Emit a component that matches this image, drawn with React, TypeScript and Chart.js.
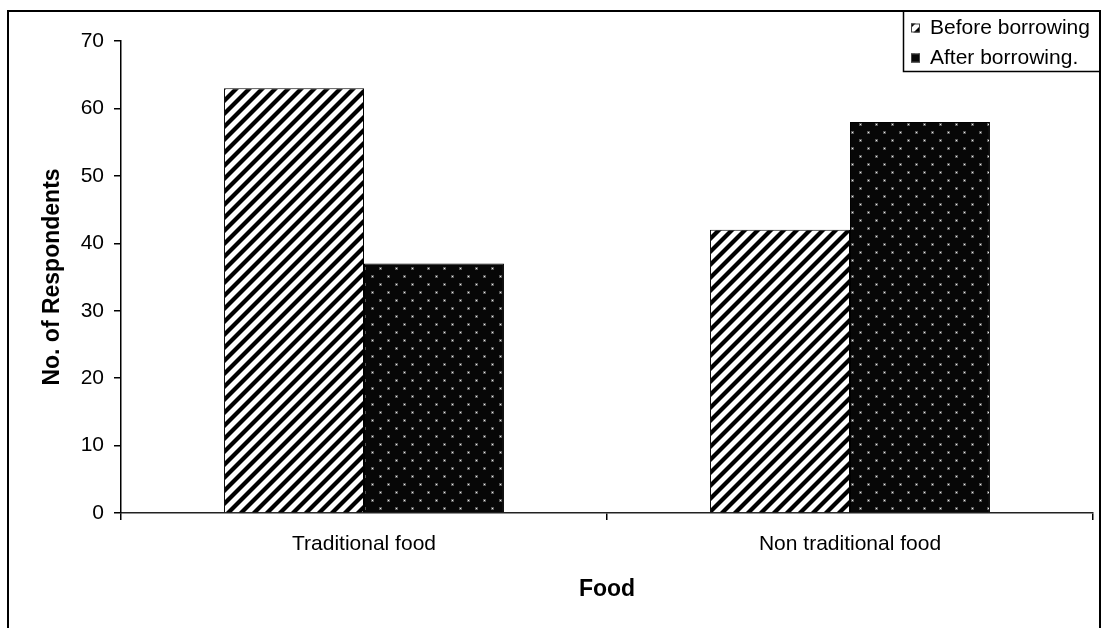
import { useEffect, useRef } from "react";
import { Chart, registerables } from "chart.js";

Chart.register(...registerables);

// ---- data ----
const categories = ["Traditional food", "Non traditional food"];
const seriesNames = ["Before borrowing", "After borrowing."];
const beforeValues = [63, 42];
const afterValues = [37, 58];
const yTickValues = [0, 10, 20, 30, 40, 50, 60, 70];
const yAxisTitle = "No. of Respondents";
const xAxisTitle = "Food";

const FONT_FAMILY = "'Liberation Sans', Arial, Helvetica, sans-serif";

// Diagonal "/" hatch on white
function makeStripePattern(ctx: CanvasRenderingContext2D): CanvasPattern | string {
  const size = 13;
  const c = document.createElement("canvas");
  c.width = size;
  c.height = size;
  const g = c.getContext("2d");
  if (!g) return "#888";
  g.fillStyle = "#ffffff";
  g.fillRect(0, 0, size, size);
  g.strokeStyle = "#000000";
  g.lineWidth = 4.2;
  g.lineCap = "square";
  for (const o of [-size, 0, size]) {
    g.beginPath();
    g.moveTo(o - 1, size + 1);
    g.lineTo(o + size + 1, -1);
    g.stroke();
  }
  return ctx.createPattern(c, "repeat") || "#888";
}

// Black fill with a staggered lattice of small light dots
function makeDotPattern(ctx: CanvasRenderingContext2D): CanvasPattern | string {
  const size = 16;
  const c = document.createElement("canvas");
  c.width = size;
  c.height = size;
  const g = c.getContext("2d");
  if (!g) return "#000";
  g.fillStyle = "#070707";
  g.fillRect(0, 0, size, size);
  const dot = (x: number, y: number) => {
    g.fillStyle = "rgba(140,140,140,0.6)";
    g.fillRect(x - 1, y - 1, 3, 3);
    g.fillStyle = "#f0f0f0";
    g.fillRect(x, y, 1, 1);
  };
  dot(4, 4);
  dot(12, 12);
  return ctx.createPattern(c, "repeat") || "#000";
}

// Outer frame and the boxed legend in the top-right corner
const framePlugin = {
  id: "frameAndLegend",
  afterDraw(chart: Chart) {
    const ctx = chart.ctx;
    ctx.save();
    ctx.strokeStyle = "#000";
    ctx.lineWidth = 2;
    ctx.strokeRect(8, 11, 1092, 700);

    ctx.lineWidth = 1.5;
    ctx.beginPath();
    ctx.moveTo(903.5, 11);
    ctx.lineTo(903.5, 71.5);
    ctx.lineTo(1100, 71.5);
    ctx.stroke();

    chart.data.datasets.forEach((ds: any, i: number) => {
      const cy = 28 + i * 30;
      ctx.fillStyle = ds.backgroundColor;
      ctx.fillRect(911, cy - 4.5, 9, 9);
      ctx.strokeStyle = "#444";
      ctx.lineWidth = 1;
      ctx.strokeRect(911.5, cy - 4, 8, 8);
      ctx.fillStyle = "#000";
      ctx.font = `21px ${FONT_FAMILY}`;
      ctx.textAlign = "left";
      ctx.textBaseline = "middle";
      ctx.fillText(String(ds.label), 930, cy);
    });
    ctx.restore();
  },
};

export default function App() {
  const canvasRef = useRef<HTMLCanvasElement | null>(null);

  useEffect(() => {
    const canvas = canvasRef.current;
    if (!canvas) return;
    const ctx = canvas.getContext("2d");
    if (!ctx) return;

    const stripes = makeStripePattern(ctx);
    const dots = makeDotPattern(ctx);

    const chart = new Chart(ctx, {
      type: "bar",
      data: {
        labels: categories,
        datasets: [
          {
            label: seriesNames[0],
            data: beforeValues,
            backgroundColor: stripes as any,
            borderColor: "#000",
            borderWidth: 1,
          },
          {
            label: seriesNames[1],
            data: afterValues,
            backgroundColor: dots as any,
            borderColor: "#000",
            borderWidth: 1,
          },
        ],
      },
      options: {
        animation: false,
        responsive: false,
        devicePixelRatio: 1,
        layout: { padding: { left: 0, top: 41, right: 9, bottom: 0 } },
        datasets: { bar: { categoryPercentage: 0.576, barPercentage: 1 } },
        plugins: {
          legend: { display: false },
          tooltip: { enabled: false },
        },
        scales: {
          x: {
            type: "category",
            offset: true,
            border: { display: true, color: "#222", width: 1.5 },
            grid: {
              display: true,
              offset: true,
              drawOnChartArea: false,
              drawTicks: true,
              tickLength: 7,
              color: "#000",
              lineWidth: 1.5,
            },
            ticks: {
              color: "#000",
              padding: 12,
              font: { family: FONT_FAMILY, size: 21 },
              maxRotation: 0,
            },
            title: {
              display: true,
              text: xAxisTitle,
              color: "#000",
              font: { family: FONT_FAMILY, size: 23, weight: "bold" },
              padding: { top: 0, bottom: 25 },
            },
            afterFit: (scale: any) => {
              scale.height = 115;
            },
          },
          y: {
            min: yTickValues[0],
            max: yTickValues[yTickValues.length - 1],
            border: { display: true, color: "#000", width: 1.5 },
            grid: {
              display: true,
              drawOnChartArea: false,
              drawTicks: true,
              tickLength: 7,
              color: "#000",
              lineWidth: 1.5,
            },
            ticks: {
              stepSize: yTickValues[1] - yTickValues[0],
              color: "#000",
              padding: 10,
              font: { family: FONT_FAMILY, size: 21 },
            },
            title: {
              display: true,
              text: yAxisTitle,
              color: "#000",
              font: { family: FONT_FAMILY, size: 23, weight: "bold" },
              padding: { top: 39, bottom: 0 },
            },
            afterFit: (scale: any) => {
              scale.width = 121;
            },
          },
        },
      },
      plugins: [framePlugin],
    });

    return () => chart.destroy();
  }, []);

  return (
    <div style={{ position: "absolute", left: 0, top: 0, width: 1102, height: 628, background: "#fff" }}>
      <canvas ref={canvasRef} width={1102} height={628} style={{ display: "block" }} />
    </div>
  );
}
